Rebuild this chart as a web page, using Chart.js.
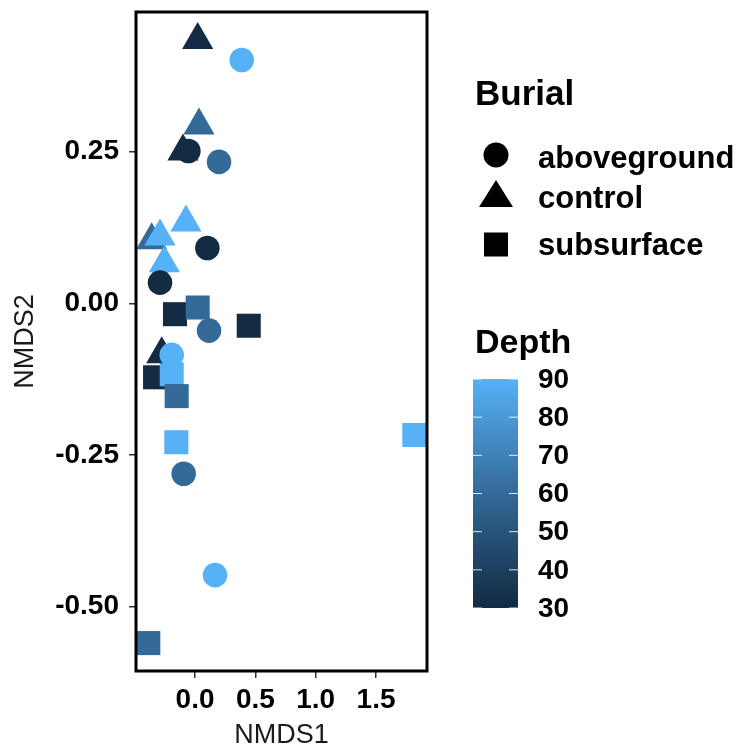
<!DOCTYPE html>
<html lang="en">
<head>
<meta charset="UTF-8">
<title>NMDS ordination</title>
<script src="https://cdn.jsdelivr.net/npm/chart.js"></script>
<style>
    body { margin: 0; background: #ffffff; }
    canvas { display: block; }
</style>
</head>
<body>
<canvas id="nmdsChart" width="742" height="747"></canvas>
<script>
    // aboveground burial (circles)
    const aboveX = [0.387, -0.055, 0.199, 0.102, -0.290, 0.116, -0.193, -0.094, 0.166];
    const aboveY = [0.401, 0.251, 0.233, 0.091, 0.034, -0.045, -0.085, -0.281, -0.448];
    const aboveDepth = [90, 30, 60, 30, 30, 60, 90, 60, 90];

    // control (triangles)
    const controlX = [0.022, 0.033, -0.100, -0.075, -0.359, -0.290, -0.254, -0.276];
    const controlY = [0.434, 0.293, 0.250, 0.133, 0.104, 0.110, 0.066, -0.084];
    const controlDepth = [30, 60, 30, 90, 60, 90, 90, 30];

    // subsurface burial (squares)
    const subX = [-0.166, 0.022, 0.445, -0.331, -0.193, -0.152, -0.155, -0.387, 1.817];
    const subY = [-0.018, -0.007, -0.037, -0.122, -0.117, -0.153, -0.229, -0.560, -0.217];
    const subDepth = [30, 60, 30, 30, 90, 60, 90, 60, 90];

    const xTicks = [0, 0.5, 1.0, 1.5];
    const yTicks = [-0.5, -0.25, 0, 0.25];
    const depthTicks = [30, 40, 50, 60, 70, 80, 90];
    const burialLabels = ['aboveground', 'control', 'subsurface'];

    const FONT = "'Liberation Sans', Arial, sans-serif";
    const LOW = '#132B43', HIGH = '#56B1F7';
    const DMIN = 30, DMAX = 90;

    // colour gradient in Lab space, like ggplot's default continuous scale
    function hexToLab(hex) {
        const c = [1, 3, 5].map(i => parseInt(hex.slice(i, i + 2), 16) / 255)
            .map(v => v <= 0.04045 ? v / 12.92 : Math.pow((v + 0.055) / 1.055, 2.4));
        const X = (0.4124 * c[0] + 0.3576 * c[1] + 0.1805 * c[2]) / 0.95047;
        const Y = 0.2126 * c[0] + 0.7152 * c[1] + 0.0722 * c[2];
        const Z = (0.0193 * c[0] + 0.1192 * c[1] + 0.9505 * c[2]) / 1.08883;
        const f = t => t > 0.008856 ? Math.cbrt(t) : 7.787 * t + 16 / 116;
        return [116 * f(Y) - 16, 500 * (f(X) - f(Y)), 200 * (f(Y) - f(Z))];
    }
    function labToRgb(lab) {
        const fy = (lab[0] + 16) / 116, fx = fy + lab[1] / 500, fz = fy - lab[2] / 200;
        const inv = t => t * t * t > 0.008856 ? t * t * t : (t - 16 / 116) / 7.787;
        const X = inv(fx) * 0.95047, Y = inv(fy), Z = inv(fz) * 1.08883;
        const lin = [
            3.2406 * X - 1.5372 * Y - 0.4986 * Z,
            -0.9689 * X + 1.8758 * Y + 0.0415 * Z,
            0.0557 * X - 0.2040 * Y + 1.0570 * Z
        ];
        const rgb = lin.map(v => {
            const s = v <= 0.0031308 ? 12.92 * v : 1.055 * Math.pow(v, 1 / 2.4) - 0.055;
            return Math.round(Math.min(1, Math.max(0, s)) * 255);
        });
        return `rgb(${rgb[0]}, ${rgb[1]}, ${rgb[2]})`;
    }
    const lowLab = hexToLab(LOW), highLab = hexToLab(HIGH);
    function depthColor(d) {
        const t = (d - DMIN) / (DMAX - DMIN);
        return labToRgb(lowLab.map((v, i) => v + (highLab[i] - v) * t));
    }

    function toPoints(xs, ys) {
        return xs.map((x, i) => ({ x: x, y: ys[i] }));
    }

    // frame, axis titles and the two legends
    const extrasPlugin = {
        id: 'extras',
        afterDatasetsDraw(chart) {
            const { ctx, chartArea: a } = chart;
            ctx.save();
            ctx.strokeStyle = '#000';
            ctx.lineWidth = 3;
            ctx.strokeRect(a.left, a.top, a.right - a.left, a.bottom - a.top);
            ctx.restore();
        },
        afterDraw(chart) {
            const { ctx, chartArea: a } = chart;
            ctx.save();
            ctx.fillStyle = '#1a1a1a';
            ctx.font = `27px ${FONT}`;
            ctx.textAlign = 'center';
            ctx.textBaseline = 'alphabetic';
            ctx.fillText('NMDS1', (a.left + a.right) / 2, 743);
            ctx.save();
            ctx.translate(26, (a.top + a.bottom) / 2);
            ctx.rotate(-Math.PI / 2);
            ctx.textBaseline = 'middle';
            ctx.fillText('NMDS2', 0, 0);
            ctx.restore();

            // Burial legend
            ctx.fillStyle = '#000';
            ctx.textAlign = 'left';
            ctx.textBaseline = 'alphabetic';
            ctx.font = `bold 35px ${FONT}`;
            ctx.fillText('Burial', 475, 105);
            ctx.font = `bold 31px ${FONT}`;
            const cx = 496;
            ctx.beginPath();
            ctx.arc(cx, 155, 12.5, 0, Math.PI * 2);
            ctx.fill();
            ctx.beginPath();
            ctx.moveTo(cx, 180);
            ctx.lineTo(cx + 17, 207);
            ctx.lineTo(cx - 17, 207);
            ctx.closePath();
            ctx.fill();
            ctx.fillRect(cx - 12, 232.5, 24, 24);
            const labelY = [168, 208, 255];
            burialLabels.forEach((t, i) => ctx.fillText(t, 538, labelY[i]));

            // Depth colour bar
            ctx.font = `bold 34px ${FONT}`;
            ctx.fillText('Depth', 475, 353);
            const barL = 473, barW = 45, barT = 379, barB = 608;
            const grad = ctx.createLinearGradient(0, barB, 0, barT);
            for (let d = DMIN; d <= DMAX; d += 5) {
                grad.addColorStop((d - DMIN) / (DMAX - DMIN), depthColor(d));
            }
            ctx.fillStyle = grad;
            ctx.fillRect(barL, barT, barW, barB - barT);
            ctx.strokeStyle = 'rgba(255,255,255,0.85)';
            ctx.lineWidth = 1;
            ctx.font = `bold 28px ${FONT}`;
            ctx.fillStyle = '#000';
            ctx.textBaseline = 'middle';
            depthTicks.forEach(d => {
                const y = barB - (d - DMIN) / (DMAX - DMIN) * (barB - barT);
                ctx.beginPath();
                ctx.moveTo(barL, y); ctx.lineTo(barL + 9, y);
                ctx.moveTo(barL + barW - 9, y); ctx.lineTo(barL + barW, y);
                ctx.stroke();
                ctx.fillText(String(d), 538, y + 1);
            });
            ctx.restore();
        }
    };

    const tickFont = { family: FONT, size: 28, weight: 'bold' };

    new Chart(document.getElementById('nmdsChart').getContext('2d'), {
        type: 'scatter',
        data: {
            datasets: [
                {
                    label: 'aboveground',
                    data: toPoints(aboveX, aboveY),
                    pointStyle: 'circle',
                    pointRadius: 12.3,
                    pointBorderWidth: 0,
                    backgroundColor: aboveDepth.map(depthColor)
                },
                {
                    label: 'control',
                    data: toPoints(controlX, controlY),
                    pointStyle: 'triangle',
                    pointRadius: 18,
                    pointBorderWidth: 0,
                    backgroundColor: controlDepth.map(depthColor)
                },
                {
                    label: 'subsurface',
                    data: toPoints(subX, subY),
                    pointStyle: 'rect',
                    pointRadius: 17,
                    pointBorderWidth: 0,
                    backgroundColor: subDepth.map(depthColor)
                }
            ]
        },
        options: {
            responsive: false,
            animation: false,
            events: [],
            layout: { autoPadding: false, padding: { top: 12, right: 315, left: 0, bottom: 0 } },
            plugins: {
                legend: { display: false },
                tooltip: { enabled: false }
            },
            scales: {
                x: {
                    type: 'linear',
                    min: -0.489,
                    max: 1.922,
                    afterBuildTicks: s => { s.ticks = xTicks.map(v => ({ value: v })); },
                    afterFit: s => {
                        s.height = 76;
                        s.paddingLeft = 0;
                        s.paddingRight = 0;
                    },
                    ticks: {
                        callback: v => Number(v).toFixed(1),
                        font: tickFont,
                        color: '#000',
                        padding: 5,
                        maxRotation: 0,
                        autoSkip: false
                    },
                    grid: { drawOnChartArea: false, drawTicks: true, tickLength: 7, color: '#333', lineWidth: 1.5 },
                    border: { display: false }
                },
                y: {
                    type: 'linear',
                    min: -0.606,
                    max: 0.480,
                    afterBuildTicks: s => { s.ticks = yTicks.map(v => ({ value: v })); },
                    afterFit: s => {
                        s.width = 136;
                        s.paddingTop = 0;
                        s.paddingBottom = 0;
                    },
                    ticks: {
                        callback: v => Number(v).toFixed(2),
                        font: tickFont,
                        color: '#000',
                        padding: 10,
                        autoSkip: false
                    },
                    grid: { drawOnChartArea: false, drawTicks: true, tickLength: 7, color: '#333', lineWidth: 1.5 },
                    border: { display: false }
                }
            }
        },
        plugins: [extrasPlugin]
    });
</script>
</body>
</html>
